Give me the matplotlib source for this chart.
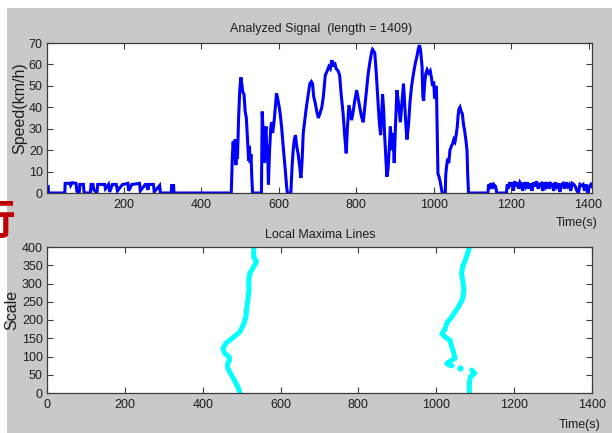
import matplotlib
matplotlib.use("Agg")
import matplotlib.pyplot as plt
from matplotlib.patches import Rectangle
from matplotlib import font_manager

# ---------------- data ----------------
# Analyzed signal: (time s, speed km/h)
sig_t_low1 = [0, 4, 5, 47, 48, 60, 62, 66, 76, 78, 80, 84, 86, 95, 97, 113, 115, 120, 122, 130,
              132, 150, 152, 160, 163, 170, 172, 180, 183, 196, 198, 210, 212, 220, 222, 240,
              242, 255, 257, 262, 264, 276, 278, 292, 294, 322, 323, 328, 329, 477]
sig_v_low1 = [3, 3, 0, 0, 4.5, 4.5, 3.5, 4.8, 4.5, 1, 0, 0, 4, 4, 0, 0, 4, 4, 1.5, 0,
              4, 4, 2, 4, 0.5, 4, 4, 4, 1, 4, 4, 4.5, 1, 4, 4, 4.5,
              1, 4, 4, 1.5, 4, 4, 0.5, 3.5, 0, 0, 3.5, 3.5, 0, 0]

sig_t_high = [477, 480, 482, 485, 487, 489, 491, 493, 496, 499, 502, 505, 507, 510, 513, 516, 518,
              520, 522, 524, 526, 528, 530, 532, 555, 557, 559, 561, 563, 565, 567, 569, 571, 573,
              576, 579, 581, 584, 588, 591, 594, 597, 601, 604, 607, 612, 617, 620, 622, 631, 634,
              637, 640, 643, 646, 650, 654, 657, 660, 663, 667, 671, 675, 680, 684, 687, 690, 694,
              698, 702, 706, 711, 715, 720, 725, 729, 733, 737, 740, 744, 748, 753, 757, 761, 766,
              770, 774, 777, 781, 784, 788, 792, 796, 801, 805, 809, 813, 818, 822, 826, 831, 836,
              840, 842, 846, 848, 852, 857, 860, 863, 866, 868, 871, 873, 876, 879, 882, 885, 888,
              890, 892, 895, 898, 901, 905, 909, 914, 918, 922, 925, 928, 931, 935, 939, 943, 948,
              952, 957, 960, 963, 966, 970, 972, 974, 977, 980, 983, 987, 991, 994, 997, 1000,
              1002, 1004, 1007, 1009, 1011, 1013, 1016, 1018, 1021, 1022, 1030, 1031, 1033, 1036,
              1039, 1042, 1046, 1049, 1052, 1055, 1058, 1061, 1063, 1065, 1068, 1071, 1074, 1077,
              1080, 1083, 1086, 1088, 1090]
sig_v_high = [0, 18, 24, 15, 25, 13, 22, 16, 35, 48, 54, 50, 47, 46, 38, 35, 28,
              21, 15, 22, 14, 18, 8, 0, 0, 38, 30, 20, 14, 28, 31, 15, 22, 4,
              20, 30, 33, 28, 34, 40, 46.5, 44, 40, 36, 31, 20, 10, 3, 0, 0, 12,
              20, 25, 27, 22, 18, 12, 7, 15, 28, 34, 40, 45, 51, 52, 51, 45, 42,
              38, 35, 37, 40, 45, 55, 57, 59, 58, 62, 59, 61, 58, 57, 55, 46, 37,
              27, 18.5, 30, 41, 38, 34, 38, 43, 48, 44, 40, 36, 33, 40, 47, 56, 62,
              66, 67, 66, 65, 55, 40, 32, 27, 38, 46, 38, 28, 18, 7.6, 11, 20, 31,
              26, 20, 28, 14, 30, 48, 42, 33, 42, 51, 42, 32, 25, 32, 43, 50, 56,
              60, 64, 67, 69, 67, 59, 45, 43, 52, 56, 57.5, 56, 57, 54, 50, 52,
              45, 44, 50, 30, 9, 8, 6, 4, 1, 0, 0, 8, 12, 16,
              14, 20, 22, 23, 25, 24, 27, 31, 36, 39, 40, 38, 37, 32,
              29, 25, 20, 8, 0]

sig_t_low2 = [1090, 1140, 1142, 1145, 1148, 1152, 1155, 1160, 1163, 1188, 1190, 1193, 1196, 1200,
              1203, 1206, 1209, 1213, 1216, 1220, 1223, 1227, 1230, 1234, 1238, 1242, 1246, 1250,
              1254, 1258, 1262, 1266, 1270, 1274, 1278, 1282, 1286, 1290, 1294, 1298, 1302, 1306,
              1310, 1314, 1318, 1322, 1326, 1330, 1334, 1338, 1342, 1346, 1350, 1354, 1358, 1362,
              1366, 1370, 1374, 1378, 1382, 1386, 1390, 1394, 1398, 1402, 1406, 1409]
sig_v_low2 = [0, 0, 4, 3, 4.5, 2, 4, 3, 0, 0, 4, 2, 5, 3,
              5, 1, 5.5, 3, 5, 2, 5, 4, 1, 5, 3, 5, 2, 4.5,
              1, 5, 3, 5.5, 2, 4, 4.5, 1, 5, 3, 5, 2, 4.5, 4,
              1, 5, 3, 4.5, 0.5, 4, 4.5, 2, 5, 3, 4, 1, 4.5, 4,
              3, 1, 0, 4, 3.5, 4, 1, 4, 0, 3, 4, 3]

# Local maxima lines: (time s, scale)
lm1_t = [496, 492, 481, 471, 464, 464, 469, 468, 456, 452, 459, 476, 496, 506, 511, 513, 516,
         519, 518, 521, 531, 538, 531, 531]
lm1_s = [0, 13, 36, 54, 68, 81, 90, 99, 109, 122, 136, 150, 168, 191, 209, 232, 255,
         282, 310, 328, 346, 360, 373, 400]

lm2a_t = [1085, 1085, 1088, 1099, 1091]
lm2a_s = [0, 27, 45, 54, 63]
lm2b_t = [1061]
lm2b_s = [69]
lm2c_t = [1040, 1027, 1029, 1048, 1045, 1040, 1035, 1022, 1014, 1022, 1027, 1040, 1057, 1068,
          1071, 1069, 1065, 1068, 1076, 1082, 1085]
lm2c_s = [74, 80, 83, 95, 109, 127, 145, 154, 162, 174, 191, 209, 236, 259,
          282, 300, 328, 346, 369, 387, 400]

top_xticks = [200, 400, 600, 800, 1000, 1200, 1400]
top_yticks = [0, 10, 20, 30, 40, 50, 60, 70]
bot_xticks = [0, 200, 400, 600, 800, 1000, 1200, 1400]
bot_yticks = [0, 50, 100, 150, 200, 250, 300, 350, 400]

# ---------------- figure ----------------
W, H = 612, 433
fig = plt.figure(figsize=(W / 100, H / 100), dpi=100)
fig.patch.set_facecolor("white")
fig.patches.append(Rectangle((7 / W, 0), 1 - 7 / W, (H - 8) / H, transform=fig.transFigure,
                             facecolor="#c9c9c9", edgecolor="none", zorder=-10))

_names = {f.name for f in font_manager.fontManager.ttflist}
if "Liberation Sans Narrow" in _names:
    FONT, K = "Liberation Sans Narrow", 1 / 0.82
else:
    FONT, K = "Liberation Sans", 1.0
FS = 9 * K
TXT = "#1e1e1e"


def px_to_fig(x, y):
    return x / W, 1 - y / H


def style_axes(ax):
    ax.set_facecolor("white")
    for sp in ax.spines.values():
        sp.set_color("#3c3c3c")
        sp.set_linewidth(0.9)
    ax.tick_params(direction="in", length=4, width=0.8, color="#3c3c3c",
                   top=True, right=True, labelsize=FS, labelcolor=TXT)
    ax.tick_params(axis="x", pad=4)
    ax.tick_params(axis="y", pad=3)
    for lab in ax.get_xticklabels() + ax.get_yticklabels():
        lab.set_family(FONT)


# top axes
ax1 = fig.add_axes([47 / W, 1 - 193 / H, 545 / W, 150 / H])
sig_t = sig_t_low1 + sig_t_high[1:] + sig_t_low2[1:]
sig_v = sig_v_low1 + sig_v_high[1:] + sig_v_low2[1:]
ax1.plot(sig_t, sig_v, color="#0000ff", lw=2.2, solid_joinstyle="miter")
ax1.set_xlim(1, 1409)
ax1.set_ylim(0, 70)
ax1.set_xticks(top_xticks)
ax1.set_yticks(top_yticks)
style_axes(ax1)

# bottom axes
ax2 = fig.add_axes([47 / W, 1 - 393 / H, 545 / W, 146 / H])
kw = dict(color="#00ffff", lw=3.6, solid_capstyle="round", solid_joinstyle="round")
ax2.plot(lm1_t, lm1_s, **kw)
ax2.plot(lm2a_t, lm2a_s, **kw)
ax2.plot(lm2b_t, lm2b_s, "o", color="#00ffff", ms=4.5, mec="none")
ax2.plot(lm2c_t, lm2c_s, **kw)
ax2.set_xlim(0, 1400)
ax2.set_ylim(0, 400)
ax2.set_xticks(bot_xticks)
ax2.set_yticks(bot_yticks)
style_axes(ax2)

# texts
tk = dict(family=FONT, fontsize=FS, color=TXT)
fig.text(*px_to_fig(321, 29), "Analyzed Signal  (length = 1409)", ha="center", va="center", **tk)
fig.text(*px_to_fig(320, 235), "Local Maxima Lines", ha="center", va="center", **tk)
fig.text(*px_to_fig(597, 223), "Time(s)", ha="right", va="center", **tk)
fig.text(*px_to_fig(600, 425), "Time(s)", ha="right", va="center", **tk)
yl = dict(family="Liberation Sans", fontsize=11.5, color=TXT, rotation=90,
          ha="center", va="center")
fig.text(*px_to_fig(20, 108), "Speed(km/h)", **yl)
fig.text(*px_to_fig(12, 310), "Scale", **yl)

# red glyph fragment at the left edge (cropped slide text)
fig.text(*px_to_fig(15, 222), "行", ha="right", va="center", color="#c00000",
         family=["Noto Sans CJK SC", "DejaVu Sans"], fontsize=30, fontweight="bold")

fig.savefig("out.png", dpi=100)
